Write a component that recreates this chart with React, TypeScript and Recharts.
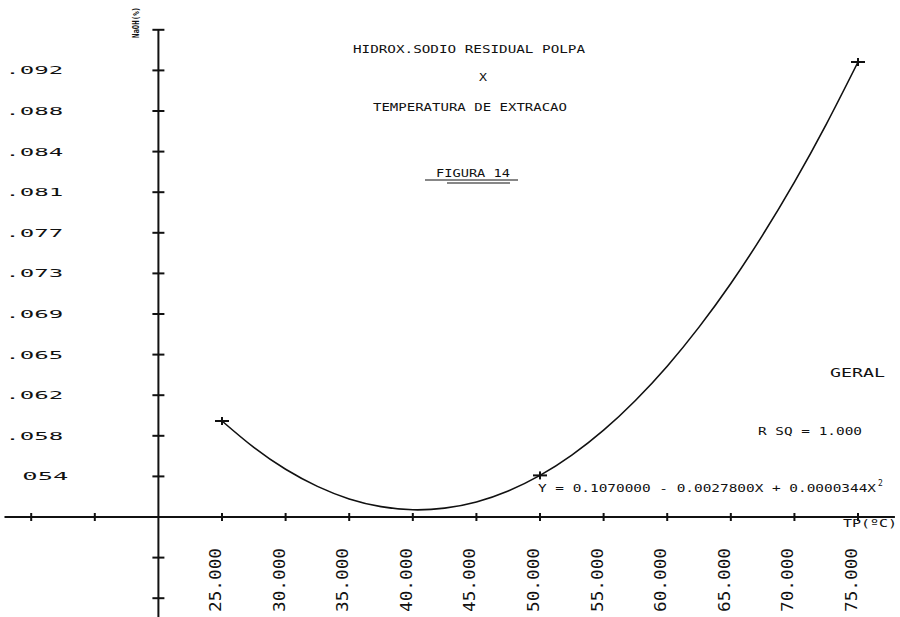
import React from 'react';
import {
  ComposedChart,
  XAxis,
  YAxis,
  Line,
  Scatter,
  ReferenceLine,
  ReferenceDot,
  Customized,
} from 'recharts';

// Measured points: extraction temperature (ºC) vs residual NaOH in pulp (%)
const measuredTemps = [25, 50, 75];
const measuredNaOH = [0.059, 0.054, 0.092];

// Fitted quadratic curve, sampled every 2.5 ºC
const fitTemps = [25, 27.5, 30, 32.5, 35, 37.5, 40, 42.5, 45, 47.5, 50, 52.5, 55, 57.5, 60, 62.5, 65, 67.5, 70, 72.5, 75];
const fitNaOH = [
  0.059, 0.05657, 0.05456, 0.05299, 0.05184, 0.05113, 0.05084, 0.05099, 0.05156, 0.05257, 0.054,
  0.05587, 0.05816, 0.06089, 0.06404, 0.06763, 0.07164, 0.07609, 0.08096, 0.08627, 0.092,
];

// Axis crossing point
const originTemp = 20;
const originNaOH = 0.050176;

// Y axis ticks (plotter scale) and their printed labels
const yTickValues = [
  0.042712, 0.046444, 0.053908, 0.05764, 0.061372, 0.065104, 0.068836, 0.072568, 0.0763,
  0.080032, 0.083764, 0.087496, 0.091228, 0.09496,
];
const yTickLabels = ['', '', '054', '.058', '.062', '.065', '.069', '.073', '.077', '.081', '.084', '.088', '.092', ''];

// X axis ticks and their printed labels
const xTickValues = [10, 15, 25, 30, 35, 40, 45, 50, 55, 60, 65, 70, 75];
const xTickLabels = ['', '', '25.000', '30.000', '35.000', '40.000', '45.000', '50.000', '55.000', '60.000', '65.000', '70.000', '75.000'];

const X_DOMAIN: [number, number] = [7.547, 78.3];
const Y_DOMAIN: [number, number] = [0.040984, 0.097699];

const FONT = '"DejaVu Sans Mono", "Liberation Mono", monospace';
const INK = '#111';

const fitData = fitTemps.map((t, i) => ({ x: t, y: fitNaOH[i] }));
const pointData = measuredTemps.map((t, i) => ({ x: t, y: measuredNaOH[i] }));

const PlusMarker = (props: any) => {
  const { cx, cy } = props;
  if (cx == null || cy == null) return null;
  return (
    <g stroke={INK} strokeWidth={2}>
      <line x1={cx - 7} y1={cy} x2={cx + 7} y2={cy} />
      <line x1={cx} y1={cy - 4} x2={cx} y2={cy + 4} />
    </g>
  );
};

const StretchText = ({ x, y, len, size, children, weight }: any) => (
  <text
    x={x}
    y={y}
    fontFamily={FONT}
    fontSize={size}
    fontWeight={weight || 'normal'}
    fill={INK}
    textLength={len}
    lengthAdjust="spacingAndGlyphs"
  >
    {children}
  </text>
);

const Annotations = () => (
  <g>
    <StretchText x={353} y={53} len={232} size={11}>HIDROX.SODIO RESIDUAL POLPA</StretchText>
    <StretchText x={479} y={81} len={8} size={11}>X</StretchText>
    <StretchText x={373} y={111} len={194} size={11}>TEMPERATURA DE EXTRACAO</StretchText>
    <StretchText x={436} y={177} len={74} size={11}>FIGURA 14</StretchText>
    <line x1={425} y1={180} x2={518} y2={180} stroke={INK} strokeWidth={1.2} />
    <line x1={447} y1={183} x2={510} y2={183} stroke={INK} strokeWidth={1.2} />
    <StretchText x={830} y={377} len={55} size={12}>GERAL</StretchText>
    <StretchText x={758} y={435} len={104} size={11}>R SQ = 1.000</StretchText>
    <StretchText x={538} y={492} len={338} size={11}>Y = 0.1070000 - 0.0027800X + 0.0000344X</StretchText>
    <text x={878} y={486} fontFamily={FONT} fontSize={8} fill={INK}>2</text>
    <StretchText x={843} y={527} len={54} size={10}>TP(ºC)</StretchText>
    <text
      transform="translate(139, 38) rotate(-90)"
      fontFamily={FONT}
      fontSize={9}
      fontWeight="bold"
      fill={INK}
      textLength={31}
      lengthAdjust="spacingAndGlyphs"
    >
      NaOH(%)
    </text>
  </g>
);

export default function App() {
  return (
    <div style={{ position: 'fixed', left: 0, top: 0, width: 900, height: 617, background: '#fff' }}>
      <ComposedChart width={900} height={617} margin={{ top: 0, right: 0, bottom: 0, left: 0 }}>
        <XAxis type="number" dataKey="x" domain={X_DOMAIN} allowDataOverflow hide />
        <YAxis type="number" dataKey="y" domain={Y_DOMAIN} allowDataOverflow hide />

        {/* Crossing axes */}
        <ReferenceLine
          segment={[{ x: originTemp, y: 0.09496 }, { x: originTemp, y: Y_DOMAIN[0] }]}
          stroke={INK}
          strokeWidth={2}
          ifOverflow="visible"
        />
        <ReferenceLine
          segment={[{ x: 7.9, y: originNaOH }, { x: 77.9, y: originNaOH }]}
          stroke={INK}
          strokeWidth={2}
          ifOverflow="visible"
        />

        {/* Y axis tick crosses and labels */}
        {yTickValues.map((v, i) => (
          <ReferenceDot
            key={`yt-${i}`}
            x={originTemp}
            y={v}
            ifOverflow="visible"
            shape={(p: any) => (
              <g>
                <line x1={p.cx - 6} y1={p.cy} x2={p.cx + 6} y2={p.cy} stroke={INK} strokeWidth={2} />
                {yTickLabels[i] && (
                  <StretchText
                    x={yTickLabels[i].startsWith('.') ? p.cx - 153 : p.cx - 136}
                    y={p.cy + 4}
                    len={yTickLabels[i].startsWith('.') ? 58 : 46}
                    size={11}
                  >
                    {yTickLabels[i]}
                  </StretchText>
                )}
              </g>
            )}
          />
        ))}

        {/* X axis tick marks and rotated labels */}
        {xTickValues.map((t, i) => (
          <ReferenceDot
            key={`xt-${i}`}
            x={t}
            y={originNaOH}
            ifOverflow="visible"
            shape={(p: any) => (
              <g>
                <line x1={p.cx} y1={p.cy - 4} x2={p.cx} y2={p.cy + 4} stroke={INK} strokeWidth={2} />
                {xTickLabels[i] && (
                  <text
                    transform={`translate(${p.cx - 1}, 612) rotate(-90)`}
                    fontFamily={FONT}
                    fontSize={16}
                    fill={INK}
                    textLength={64}
                    lengthAdjust="spacingAndGlyphs"
                  >
                    {xTickLabels[i]}
                  </text>
                )}
              </g>
            )}
          />
        ))}

        <Line
          data={fitData}
          dataKey="y"
          type="natural"
          stroke={INK}
          strokeWidth={1.6}
          dot={false}
          activeDot={false}
          isAnimationActive={false}
        />
        <Scatter data={pointData} dataKey="y" shape={<PlusMarker />} isAnimationActive={false} />

        <Customized component={Annotations} />
      </ComposedChart>
    </div>
  );
}
